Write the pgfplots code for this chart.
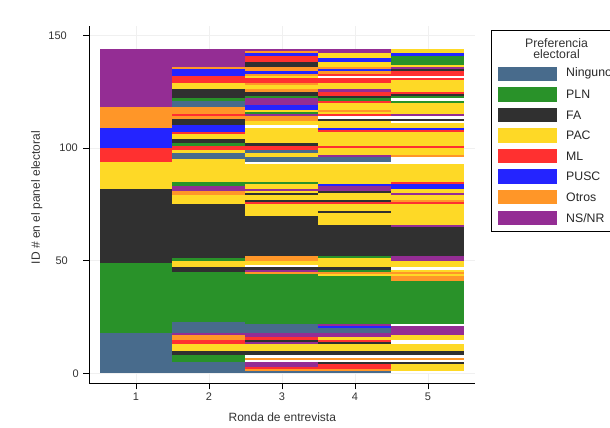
\documentclass[border=0pt]{standalone}
\usepackage{pgfplots}
\usepackage{pgfplotstable}
\pgfplotsset{compat=1.18}
\usepackage{fontspec}
\setmainfont{Liberation Sans}

\definecolor{cN}{RGB}{72,107,140}
\definecolor{cL}{RGB}{41,146,41}
\definecolor{cF}{RGB}{48,48,48}
\definecolor{cP}{RGB}{254,217,38}
\definecolor{cM}{RGB}{255,48,48}
\definecolor{cU}{RGB}{36,36,255}
\definecolor{cO}{RGB}{255,150,40}
\definecolor{cS}{RGB}{148,45,148}

% one tile: 1 x-unit wide (72.97pt), 1 y-unit high (2.253pt), slight overlap
\pgfdeclareplotmark{tile}{%
  \pgfpathrectangle{\pgfpoint{-36.5pt}{-1.16pt}}{\pgfpoint{73pt}{2.32pt}}%
  \pgfusepathqfill}

% codes: 0 Ninguno, 1 PLN, 2 FA, 3 PAC, 4 ML, 5 PUSC, 6 Otros, 7 NS/NR, 8 sin dato
\pgfplotstableread{
id c1 c2 c3 c4 c5
0 0 0 0 0 8
1 0 0 6 6 3
2 0 0 4 4 3
3 0 0 7 4 3
4 0 0 7 2 2
5 0 1 8 8 8
6 0 1 6 6 6
7 0 1 8 8 8
8 0 2 2 2 2
9 0 2 2 2 2
10 0 3 3 3 3
11 0 3 3 3 3
12 0 3 3 3 3
13 0 4 7 2 8
14 0 4 2 4 8
15 0 6 4 3 3
16 0 6 7 7 3
17 0 7 7 7 7
18 1 0 0 0 7
19 1 0 0 0 7
20 1 0 0 5 7
21 1 0 0 7 8
22 1 0 1 1 1
23 1 1 1 1 1
24 1 1 1 1 1
25 1 1 1 1 1
26 1 1 1 1 1
27 1 1 1 1 1
28 1 1 1 1 1
29 1 1 1 1 1
30 1 1 1 1 1
31 1 1 1 1 1
32 1 1 1 1 1
33 1 1 1 1 1
34 1 1 1 1 1
35 1 1 1 1 1
36 1 1 1 1 1
37 1 1 1 1 1
38 1 1 1 1 1
39 1 1 1 1 1
40 1 1 1 1 1
41 1 1 1 1 6
42 1 1 1 1 6
43 1 1 1 3 3
44 1 1 6 6 6
45 1 2 7 1 3
46 1 2 2 2 8
47 1 3 8 3 3
48 1 3 3 3 3
49 2 3 3 3 3
50 2 1 6 3 7
51 2 2 6 1 7
52 2 2 2 2 2
53 2 2 2 2 2
54 2 2 2 2 2
55 2 2 2 2 2
56 2 2 2 2 2
57 2 2 2 2 2
58 2 2 2 2 2
59 2 2 2 2 2
60 2 2 2 2 2
61 2 2 2 2 2
62 2 2 2 2 2
63 2 2 2 2 2
64 2 2 2 2 2
65 2 2 2 2 7
66 2 2 2 3 3
67 2 2 2 3 3
68 2 2 2 3 3
69 2 2 2 3 3
70 2 2 3 3 3
71 2 2 3 2 3
72 2 2 3 3 3
73 2 2 3 3 3
74 2 2 3 3 3
75 2 3 4 4 4
76 2 3 2 2 6
77 2 3 3 3 3
78 2 3 3 3 3
79 2 6 2 3 7
80 2 6 3 2 3
81 2 7 7 7 3
82 3 7 3 7 5
83 3 1 3 5 5
84 3 1 1 3 4
85 3 3 3 3 3
86 3 3 3 3 3
87 3 3 3 3 3
88 3 3 3 3 3
89 3 3 3 3 3
90 3 3 3 3 3
91 3 3 3 3 3
92 3 3 3 3 3
93 3 3 8 8 8
94 4 3 0 0 8
95 4 0 0 0 8
96 4 0 3 7 6
97 4 0 3 3 3
98 4 3 0 3 3
99 4 4 4 3 3
100 5 4 4 4 4
101 5 1 2 3 3
102 5 2 3 3 3
103 5 2 3 3 3
104 5 3 3 3 3
105 5 3 3 3 3
106 5 4 3 3 3
107 5 5 3 4 4
108 5 5 3 5 5
109 6 5 8 3 3
110 6 2 3 3 3
111 6 2 3 3 8
112 6 2 6 2 2
113 6 6 6 8 8
114 6 4 7 4 7
115 6 6 1 3 3
116 6 6 3 6 3
117 6 6 5 3 3
118 7 0 5 3 3
119 7 0 7 3 3
120 7 0 7 4 1
121 7 1 7 1 8
122 7 2 1 2 1
123 7 2 2 4 2
124 7 2 2 4 4
125 7 2 6 7 3
126 7 3 3 3 3
127 7 3 3 3 3
128 7 3 6 3 3
129 7 4 4 4 3
130 7 4 4 4 4
131 7 4 3 8 8
132 7 5 6 4 4
133 7 5 5 6 4
134 7 5 6 5 2
135 7 6 6 6 7
136 7 7 2 3 3
137 7 7 2 3 1
138 7 7 4 5 1
139 7 7 4 5 1
140 7 7 4 3 1
141 7 7 5 3 5
142 7 7 6 7 3
143 7 7 7 7 3
}\tdata

\begin{document}
\begin{tikzpicture}[x=1pt,y=1pt]
\useasboundingbox (0,0) rectangle (610,428);
\begin{axis}[
  at={(89.3pt,44.7pt)}, anchor=south west,
  scale only axis, width=386pt, height=357pt,
  xmin=0.36, xmax=5.65, ymin=-4.44, ymax=154,
  axis x line*=bottom, axis y line*=left,
  xtick={1,2,3,4,5}, ytick={0,50,100,150},
  tick align=outside, major tick length=6pt,
  tick style={black, line width=0.6pt},
  axis line style={black, line width=0.8pt},
  /pgf/number format/assume math mode=true,
  ticklabel style={font=\fontsize{11}{13}\selectfont, text=black!80},
  yticklabel={\pgfmathprintnumber{\tick}\ifcase\ticknum\hspace*{1pt}\or\hspace*{12pt}\or\hspace*{2pt}\or\hspace*{13pt}\fi},
  grid=major, grid style={black!6, line width=0.5pt},
  xlabel={Ronda de entrevista}, ylabel={ID \# en el panel electoral},
  label style={font=\fontsize{12}{13}\selectfont, text=black!80},
  x label style={at={(axis description cs:0.5,-0.0955)}, anchor=center},
  y label style={at={(axis description cs:-0.136,0.52)}, anchor=center},
  tiles/.style={scatter, only marks, mark=tile, point meta=explicit symbolic,
    scatter/classes={0={fill=cN},1={fill=cL},2={fill=cF},3={fill=cP},
      4={fill=cM},5={fill=cU},6={fill=cO},7={fill=cS},8={fill=white}}},
]
\addplot[tiles] table[x expr=1, y expr={\thisrow{id}+0.5}, meta=c1] {\tdata};
\addplot[tiles] table[x expr=2, y expr={\thisrow{id}+0.5}, meta=c2] {\tdata};
\addplot[tiles] table[x expr=3, y expr={\thisrow{id}+0.5}, meta=c3] {\tdata};
\addplot[tiles] table[x expr=4, y expr={\thisrow{id}+0.5}, meta=c4] {\tdata};
\addplot[tiles] table[x expr=5, y expr={\thisrow{id}+0.5}, meta=c5] {\tdata};
\end{axis}
% legend
\begin{scope}[font=\fontsize{12.3}{11}\selectfont]
\draw[black, line width=0.8pt] (491,398) rectangle (650,197);
\node[align=center, text=black!80] at (556.5,379) {Preferencia\\electoral};
\foreach \c/\t [count=\i from 0] in {cN/Ninguno, cL/PLN, cF/FA, cP/PAC, cM/ML, cU/PUSC, cO/Otros, cS/NS\slash NR}{
  \pgfmathsetmacro{\yc}{428-73.8-20.57*\i}
  \fill[\c] (498.3,\yc-7.2) rectangle (556.7,\yc+7.2);
  \node[anchor=west, text=black!85, inner sep=0pt] at (566,\yc) {\t};
}
\end{scope}
\end{tikzpicture}
\end{document}
